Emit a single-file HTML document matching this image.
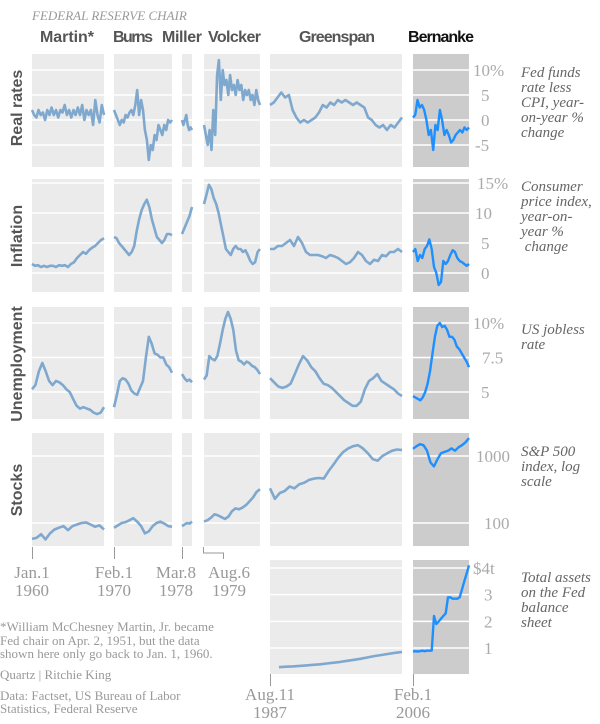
<!DOCTYPE html>
<html><head><meta charset="utf-8">
<style>
html,body{margin:0;padding:0;background:#fff;}
svg{display:block;}
.serif{font-family:"Liberation Serif",serif;}
.sans{font-family:"Liberation Sans",sans-serif;}
</style></head>
<body>
<svg id="chart" width="600" height="724" viewBox="0 0 600 724" xmlns="http://www.w3.org/2000/svg">
<text x="32" y="20" class="serif" font-style="italic" font-size="13" fill="#999">FEDERAL RESERVE CHAIR</text>
<g class="sans" font-weight="bold" font-size="16" fill="#555">
<text x="40" y="42" textLength="54">Martin*</text>
<text x="113" y="42" textLength="40">Burns</text>
<text x="162" y="42" textLength="40">Miller</text>
<text x="208" y="42" textLength="53">Volcker</text>
<text x="299" y="42" textLength="76">Greenspan</text>
<text x="408" y="42" textLength="66" fill="#111">Bernanke</text>
</g>
<g class="sans" font-weight="bold" font-size="16" fill="#555" text-anchor="middle">
<text transform="translate(22,108) rotate(-90)">Real rates</text>
<text transform="translate(22,236) rotate(-90)">Inflation</text>
<text transform="translate(22,364) rotate(-90)">Unemployment</text>
<text transform="translate(22,490) rotate(-90)">Stocks</text>
</g>
<g id="panels"></g>
<g class="serif" font-style="italic" font-size="15" fill="#666">
<text x="521" y="77"><tspan x="521">Fed funds</tspan><tspan x="521" dy="15">rate less</tspan><tspan x="521" dy="15">CPI, year-</tspan><tspan x="521" dy="15">on-year %</tspan><tspan x="521" dy="15">change</tspan></text>
<text x="521" y="191"><tspan x="521">Consumer</tspan><tspan x="521" dy="15">price index,</tspan><tspan x="521" dy="15">year-on-</tspan><tspan x="521" dy="15">year %</tspan><tspan x="521" dy="15"> change</tspan></text>
<text x="521" y="334"><tspan x="521">US jobless</tspan><tspan x="521" dy="15">rate</tspan></text>
<text x="521" y="456"><tspan x="521">S&amp;P 500</tspan><tspan x="521" dy="15">index, log</tspan><tspan x="521" dy="15">scale</tspan></text>
<text x="521" y="582"><tspan x="521">Total assets</tspan><tspan x="521" dy="15">on the Fed</tspan><tspan x="521" dy="15">balance</tspan><tspan x="521" dy="15">sheet</tspan></text>
</g>
<g stroke="#999" stroke-width="1" fill="none">
<line x1="32.5" y1="547" x2="32.5" y2="559"/>
<line x1="114.5" y1="547" x2="114.5" y2="559"/>
<line x1="182.5" y1="547" x2="182.5" y2="559"/>
<polyline points="203.5,547 203.5,553 223.5,553 223.5,559"/>
<line x1="270.5" y1="674" x2="270.5" y2="686"/>
<line x1="413.5" y1="674" x2="413.5" y2="686"/>
</g>
<g class="serif" font-size="17" fill="#999" text-anchor="middle">
<text x="32" y="578">Jan.1</text><text x="32" y="596">1960</text>
<text x="114" y="578">Feb.1</text><text x="114" y="596">1970</text>
<text x="176" y="578">Mar.8</text><text x="176" y="596">1978</text>
<text x="229" y="578">Aug.6</text><text x="229" y="596">1979</text>
<text x="270" y="700">Aug.11</text><text x="270" y="718">1987</text>
<text x="413" y="700">Feb.1</text><text x="413" y="718">2006</text>
</g>
<g class="serif" font-size="13" fill="#999">
<text x="0" y="631">*William McChesney Martin, Jr. became</text>
<text x="0" y="645">Fed chair on Apr. 2, 1951, but the data</text>
<text x="0" y="658">shown here only go back to Jan. 1, 1960.</text>
<text x="0" y="679">Quartz | Ritchie King</text>
<text x="0" y="700">Data: Factset, US Bureau of Labor</text>
<text x="0" y="713">Statistics, Federal Reserve</text>
</g>
<g id="ticklabels" class="serif" font-size="17" fill="#aaa"></g>
</svg>
<script>
// ---- data ----
const chairs = ["Martin","Burns","Miller","Volcker","Greenspan","Bernanke"];
const realMartin = [2,1,0.5,2,1,1.5,0,2,1,2.5,1,2,0.5,2,1.5,3,1,2,0.5,2,1,2.5,1,3,0,2,1,2,-1,4,1,-0.5,3,1];
const realBurns = [2,1,0,-1,0,-0.5,1,0.5,1.5,2,1,3,6,1,4,2,-2,-4,-8,-5,-6,-3,-4,-1,-2,-3,-1,-2,0,-0.5,0];
const realMiller = [0,-1,0,1,-1,-2,-1.5,-2];
const realVolcker = [-1,-3,-5,-2,-6,2,-3,9,12,4,10,7,8,5,9,6,7,5,8,6,7,4,6,5,6,4,5,3,6,4,3];
const realGreenspan = [3,3.5,4.5,5.5,4.5,5,2,0.5,-0.5,0,-0.5,0,0.5,1.5,3,2.5,3.5,3,4,3.5,4,3.5,3,3.5,3,2.5,0.5,0,-1,-1.5,-1,-2,-1,-1.5,-0.5,0.5];
const realBernanke = [0.5,1,4,2.5,3,2,0,-3,-2,-6,-1,-2,2,0,-3,-2,-3,-4.5,-4,-3,-2.5,-2,-2.5,-1.5,-2,-1.5];
const inflMartin = [1.5,1.2,1.3,1,1.2,1,1.2,1.2,1,1.3,1.2,1.3,1,1.5,1.8,2.5,3,3.5,3.2,3.8,4.2,4.5,5,5.5,5.8];
const inflBurns = [6,5.8,5,4.5,4,3.5,3,3.5,4.5,7,9,10.5,11.5,12.2,11,9,7.5,6,5.5,5,5.5,6.5,6.5,6.3];
const inflMiller = [6.5,7.5,8.5,9.5,11];
const inflVolcker = [11.5,13,14.7,14,12.5,11.5,10,8,6,4,3.5,3,4,4.5,4,4,3.5,3.8,3,2,1.5,1.8,3.5,4];
const inflGreenspan = [4,4,4.5,4.5,5,5.5,4.5,6,5,3.5,3,3,3,2.8,2.5,3,2.8,2.5,2,1.5,1.8,2.5,3.5,3,2,1.5,2.2,2,3,2.8,3.5,3.5,4,3.5];
const inflBernanke = [3.5,4,2,3,2.5,4,4.5,5.6,4,1,0,-2,-1.5,2,1.5,2,3,3.8,3.5,2.5,2,1.8,1.5,1.2,1.5];
const unempMartin = [5.2,5.5,6.5,7.1,6.5,5.8,5.5,5.8,5.7,5.5,5.2,5,4.5,4,3.8,3.9,3.8,3.7,3.5,3.4,3.5,3.9];
const unempBurns = [3.9,4.8,5.8,6,5.9,5.6,5.1,4.9,4.8,5.3,5.8,7.5,9,8.5,7.8,7.7,7.5,7.5,7,6.8,6.4];
const unempMiller = [6.3,6,5.8,5.9,5.7];
const unempVolcker = [5.9,6.2,7.6,7.4,7.3,7.6,8.5,9.5,10.3,10.8,10.3,9.5,8,7.3,7.2,7,7.2,7.1,6.9,6.8,6.6,6.3];
const unempGreenspan = [6,5.7,5.4,5.3,5.4,5.6,6.3,7,7.6,7.3,6.8,6.5,6,5.6,5.5,5.3,5,4.7,4.4,4.2,4,4,4.3,5.2,5.8,6,6.3,5.8,5.6,5.4,5.2,4.9,4.7];
const unempBernanke = [4.7,4.6,4.5,4.4,4.6,5,5.6,6.5,7.8,9,9.8,10,9.7,9.8,9.5,9,9,8.8,8.3,8.1,7.8,7.5,7.2,6.8];
const stockMartin = [58,60,68,57,70,80,85,90,78,90,95,100,102,95,88,92,80];
const stockBurns = [85,92,100,103,110,118,105,90,70,75,90,100,105,98,90,88];
const stockMiller = [90,95,100,98,105];
const stockVolcker = [105,110,120,135,130,122,115,125,150,165,160,170,185,210,240,290,320];
const stockGreenspan = [330,230,280,300,350,330,380,400,440,460,470,460,600,750,950,1150,1300,1400,1450,1300,1100,900,850,1000,1100,1200,1250,1230];
const stockBernanke = [1280,1400,1500,1450,1200,800,700,900,1100,1150,1200,1300,1200,1350,1450,1600,1850];
const assetGreenspan = [0.28,0.3,0.31,0.33,0.35,0.37,0.39,0.42,0.45,0.48,0.52,0.56,0.6,0.65,0.7,0.74,0.78,0.82,0.85];
const assetBernanke = [0.87,0.88,0.87,0.88,0.9,0.88,0.9,0.9,0.9,2.2,1.9,2.0,2.1,2.2,2.3,2.9,2.9,2.85,2.85,2.85,2.9,3.2,3.5,3.8,4.1];
const realTicks = ["10%","5","0","-5"];
const realTickVals = [10,5,0,-5];
const inflTicks = ["15%","10","5","0"];
const inflTickVals = [15,10,5,0];
const unempTicks = ["10%","7.5","5"];
const unempTickVals = [10,7.5,5];
const stockTicks = ["1000","100"];
const stockTickVals = [1000,100];
const assetTicks = ["$4t","3","2","1"];
const assetTickVals = [4,3,2,1];

// ---- layout ----
const cols = [[32,104],[114,172],[182,192],[204,260],[270,402],[413,469]];
const ns = "http://www.w3.org/2000/svg";
const panels = document.getElementById('panels');
const tl = document.getElementById('ticklabels');
function lin(d0,d1,r0,r1){return v=>r0+(v-d0)*(r1-r0)/(d1-d0);}
const rows = [
 {key:"real-rates", top:54, bot:167, y:lin(0,10,120,70), series:[realMartin,realBurns,realMiller,realVolcker,realGreenspan,realBernanke], ticks:realTicks, tv:realTickVals, tx:[473,481,481,475], cols:[0,1,2,3,4,5]},
 {key:"inflation", top:179, bot:292, y:lin(0,15,273,183), series:[inflMartin,inflBurns,inflMiller,inflVolcker,inflGreenspan,inflBernanke], ticks:inflTicks, tv:inflTickVals, tx:[477,475,481,481], cols:[0,1,2,3,4,5]},
 {key:"unemployment", top:307, bot:419, y:lin(5,10,392,323), series:[unempMartin,unempBurns,unempMiller,unempVolcker,unempGreenspan,unempBernanke], ticks:unempTicks, tv:unempTickVals, tx:[473,482,481], cols:[0,1,2,3,4,5]},
 {key:"stocks", top:433, bot:546, y:(v=>456-(Math.log10(v)-3)*67), series:[stockMartin,stockBurns,stockMiller,stockVolcker,stockGreenspan,stockBernanke], ticks:stockTicks, tv:stockTickVals, tx:[476,484], cols:[0,1,2,3,4,5]},
 {key:"assets", top:560, bot:674, y:lin(0,4,674.7,568), series:[null,null,null,null,assetGreenspan,assetBernanke], ticks:assetTicks, tv:assetTickVals, tx:[473,484,484,484], cols:[4,5], start:{4:279}}
];
rows.forEach(r=>{
  r.cols.forEach(ci=>{
    const [x0,x1]=cols[ci];
    const g=document.createElementNS(ns,'g');
    
    
    const rect=document.createElementNS(ns,'rect');
    rect.setAttribute('x',x0);rect.setAttribute('y',r.top);
    rect.setAttribute('width',x1-x0);rect.setAttribute('height',r.bot-r.top);
    rect.setAttribute('fill',ci===5?'#cccccc':'#ebebeb');
    
    
    g.appendChild(rect);
    r.tv.forEach(t=>{
      const ln=document.createElementNS(ns,'line');
      const yy=r.y(t);
      ln.setAttribute('x1',x0);ln.setAttribute('x2',x1);
      ln.setAttribute('y1',yy);ln.setAttribute('y2',yy);
      ln.setAttribute('stroke','#fff');ln.setAttribute('stroke-width','1.5');
      
      
      g.appendChild(ln);
    });
    const data=r.series[ci];
    if(data){
      const sx=(r.start&&r.start[ci])||x0;
      const xs=lin(0,data.length-1,sx,x1);
      const pts=data.map((v,i)=>xs(i).toFixed(1)+','+r.y(v).toFixed(1)).join(' ');
      const pl=document.createElementNS(ns,'polyline');
      pl.setAttribute('points',pts);pl.setAttribute('fill','none');
      pl.setAttribute('stroke',ci===5?'#1e8fff':'#7fa8cf');
      pl.setAttribute('stroke-width',ci===5?'2.4':'2.6');pl.setAttribute('stroke-linejoin','round');
      
      
      g.appendChild(pl);
    }
    panels.appendChild(g);
  });
  r.ticks.forEach((t,i)=>{
    const tx=document.createElementNS(ns,'text');
    tx.setAttribute('x',r.tx[i]);tx.setAttribute('y',r.y(r.tv[i])+6);
    tx.textContent=t;
    
    
    tl.appendChild(tx);
  });
});
</script>
</body></html>
